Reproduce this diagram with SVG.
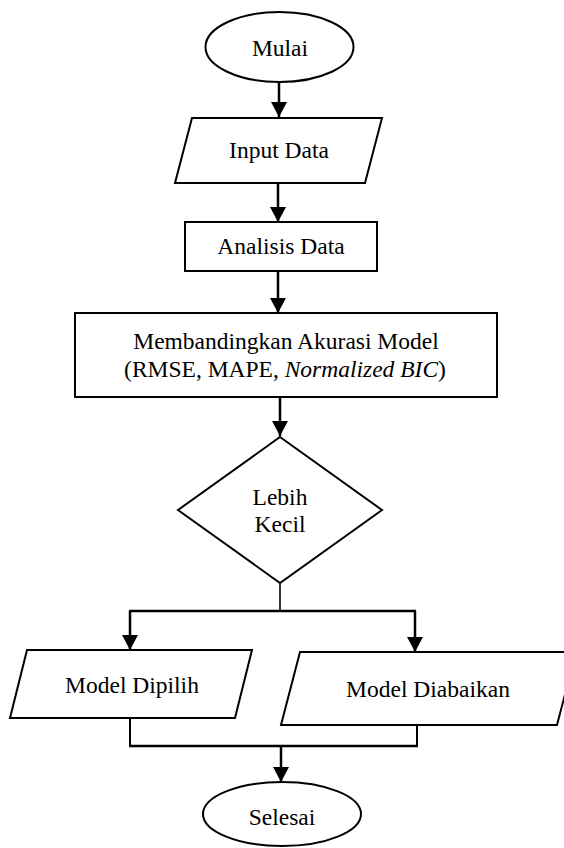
<svg xmlns="http://www.w3.org/2000/svg" width="564" height="848" viewBox="0 0 564 848">
<style>
.s{fill:#fff;stroke:#000;stroke-width:2}
.t{font-family:"Liberation Serif","Times New Roman","DejaVu Serif",serif;font-size:23.5px;fill:#000;text-anchor:middle}
.c{fill:none;stroke:#000;stroke-width:2.5}
.a{marker-end:url(#ah)}
</style>
<defs>
<marker id="ah" markerUnits="userSpaceOnUse" markerWidth="16" markerHeight="16" refX="15" refY="8" orient="auto">
<path d="M0,0 L15,8 L0,16 z" fill="#000"/>
</marker>
</defs>
<rect width="564" height="848" fill="#fff"/>
<g id="mulai">
<ellipse class="s" cx="279.5" cy="47" rx="74" ry="35"/>
<text class="t" x="280" y="56">Mulai</text>
</g>
<g id="input-data">
<polygon class="s" points="192,118 382,118 365,183 175,183"/>
<text class="t" x="279" y="158">Input Data</text>
</g>
<g id="analisis-data">
<rect class="s" x="185" y="222" width="192" height="49"/>
<text class="t" x="281" y="254">Analisis Data</text>
</g>
<g id="membandingkan">
<rect class="s" x="75" y="313" width="422" height="84"/>
<text class="t" x="286" y="349">Membandingkan Akurasi Model</text>
<text class="t" x="285" y="377">(RMSE, MAPE, <tspan font-style="italic">Normalized BIC</tspan>)</text>
</g>
<g id="lebih-kecil">
<polygon class="s" points="280,437 382,510 280,583 178,510"/>
<text class="t" x="280" y="505">Lebih</text>
<text class="t" x="280" y="532">Kecil</text>
</g>
<g id="model-dipilih">
<polygon class="s" points="27,650 252,650 235,718 10,718"/>
<text class="t" x="132" y="693">Model Dipilih</text>
</g>
<g id="model-diabaikan">
<polygon class="s" points="300,652 576,652 557,725 281,725"/>
<text class="t" x="428" y="697">Model Diabaikan</text>
</g>
<g id="selesai">
<ellipse class="s" cx="282" cy="814" rx="79" ry="32"/>
<text class="t" x="282" y="825">Selesai</text>
</g>
<g id="connectors">
<line class="c a" x1="279" y1="82" x2="279" y2="117"/>
<line class="c a" x1="278" y1="183" x2="278" y2="222"/>
<line class="c a" x1="278" y1="271" x2="278" y2="313"/>
<line class="c a" x1="280" y1="397" x2="280" y2="436"/>
<line class="c" style="stroke-width:1.6" x1="280" y1="583" x2="280" y2="611"/>
<line class="c" x1="129" y1="611" x2="416" y2="611"/>
<line class="c a" x1="130" y1="611" x2="130" y2="650"/>
<line class="c a" x1="415" y1="611" x2="415" y2="652"/>
<line class="c" style="stroke-width:2" x1="130" y1="718" x2="130" y2="746"/>
<line class="c" style="stroke-width:2" x1="417" y1="725" x2="417" y2="747"/>
<line class="c" x1="129" y1="746" x2="418" y2="746"/>
<line class="c a" x1="281" y1="746" x2="281" y2="782"/>
</g>
</svg>
